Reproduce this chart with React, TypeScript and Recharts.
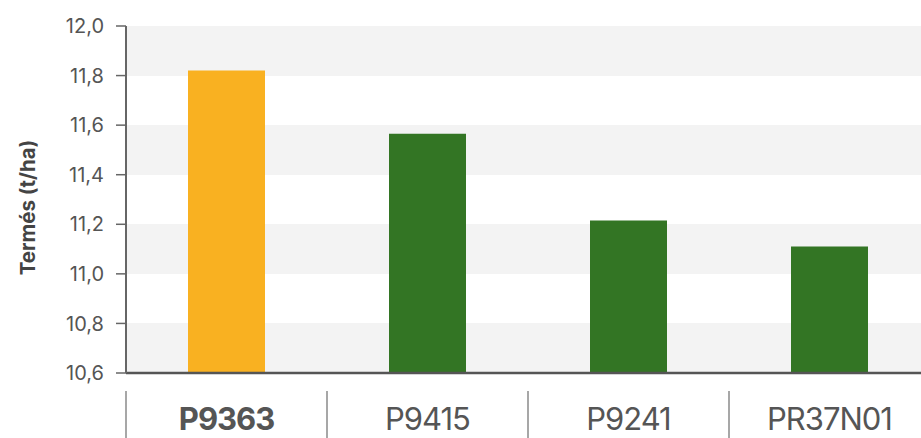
import React from 'react';
import { BarChart, Bar, XAxis, YAxis, CartesianGrid, Cell } from 'recharts';

const hybrids = ['P9363', 'P9415', 'P9241', 'PR37N01'];
const yields = [11.82, 11.565, 11.215, 11.11];
const yTicks = [10.6, 10.8, 11.0, 11.2, 11.4, 11.6, 11.8, 12.0];
const highlighted = ['P9363'];

const ORANGE = '#F9B121';
const GREEN = '#337524';
const FONT = 'Inter, "Noto Sans", sans-serif';

const CHART_W = 935;
const CHART_H = 438;
const Y_AXIS_W = 126;
const RIGHT = 5;
const BAND = (CHART_W - Y_AXIS_W - RIGHT) / hybrids.length;

const data = hybrids.map((name, i) => ({ name, value: yields[i] }));

const fmt = (v: number) => v.toFixed(1).replace('.', ',');

const XTick = ({ x, y, payload }: any) => {
  const bold = highlighted.includes(payload.value);
  return (
    <g>
      <line x1={x - BAND / 2} x2={x - BAND / 2} y1={y + 10} y2={y + 70} stroke="#8a8a8a" strokeWidth={1.5} />
      <text
        x={x}
        y={y + 49}
        textAnchor="middle"
        fill="#555"
        fontSize={31}
        fontWeight={bold ? 700 : 400}
        letterSpacing={-1}
        fontFamily={FONT}
      >
        {payload.value}
      </text>
    </g>
  );
};

const YLabel = ({ viewBox }: any) => {
  const cx = 27;
  const cy = viewBox.y + viewBox.height / 2 + 8;
  return (
    <text
      x={cx}
      y={cy}
      transform={`rotate(-90, ${cx}, ${cy})`}
      textAnchor="middle"
      dominantBaseline="central"
      fill="#444"
      fontSize={20.5}
      fontWeight={700}
      fontFamily={FONT}
    >
      Termés (t/ha)
    </text>
  );
};

export default function App() {
  return (
    <div style={{ position: 'absolute', left: 0, top: 0, width: 921, height: CHART_H, overflow: 'hidden', background: '#fff' }}>
      <BarChart
        width={CHART_W}
        height={CHART_H}
        data={data}
        margin={{ top: 26, right: RIGHT, left: 0, bottom: 0 }}
      >
        <CartesianGrid
          vertical={false}
          stroke="none"
          horizontalFill={['#f3f3f3', '#ffffff']}
          fillOpacity={1}
        />
        <XAxis
          dataKey="name"
          height={65}
          interval={0}
          axisLine={{ stroke: '#555', strokeWidth: 2.5 }}
          tickLine={false}
          tick={<XTick />}
        />
        <YAxis
          width={Y_AXIS_W}
          domain={[10.6, 12.0]}
          ticks={yTicks}
          allowDataOverflow
          tickFormatter={fmt}
          axisLine={{ stroke: '#666', strokeWidth: 2 }}
          tickLine={{ stroke: '#666', strokeWidth: 1.5 }}
          tickSize={10}
          tickMargin={12}
          tick={{ fill: '#555', fontSize: 20, fontFamily: FONT }}
          label={<YLabel />}
        />
        <Bar dataKey="value" barSize={77} isAnimationActive={false}>
          {data.map((d) => (
            <Cell key={d.name} fill={highlighted.includes(d.name) ? ORANGE : GREEN} />
          ))}
        </Bar>
      </BarChart>
    </div>
  );
}
